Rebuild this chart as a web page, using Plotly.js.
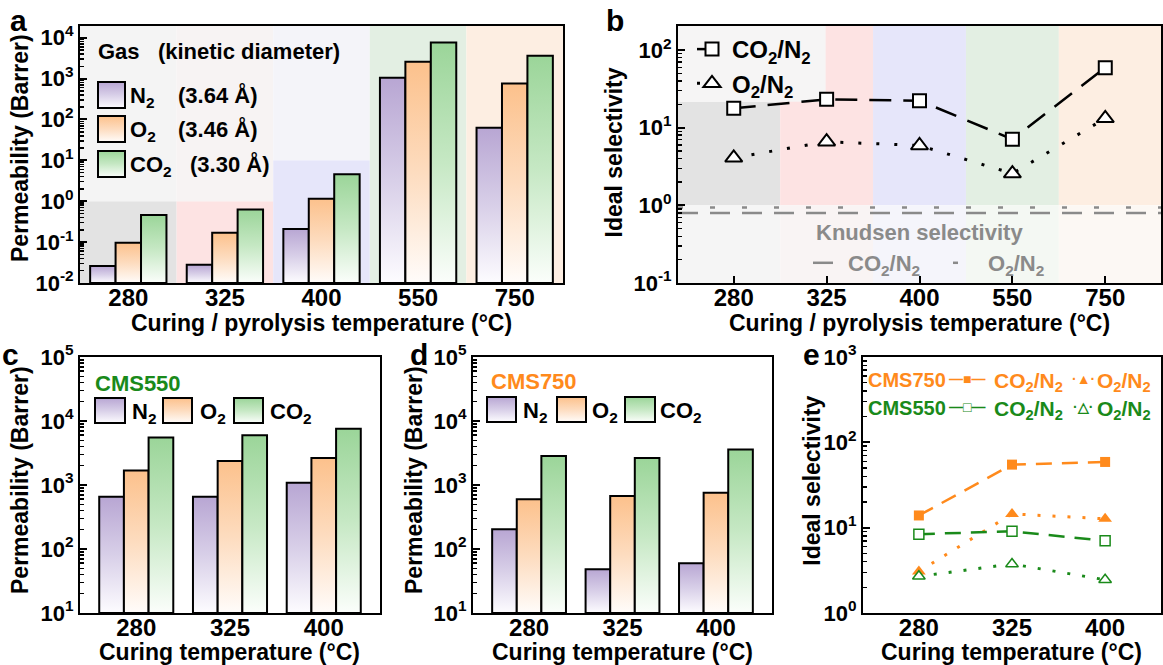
<!DOCTYPE html>
<html><head><meta charset="utf-8">
<script src="https://cdn.plot.ly/plotly-3.0.1.min.js"></script>
<style>html,body{margin:0;padding:0;background:#fff;} #chart{width:1163px;height:665px;}</style>
</head><body><div id="chart"></div>
<script>
// ---------------- data ----------------
const temps = ['280', '325', '400', '550', '750'];
const permN2 = [0.026, 0.028, 0.21, 1050, 63];
const permO2 = [0.096, 0.17, 1.15, 2600, 760];
const permCO2 = [0.46, 0.63, 4.6, 7600, 3600];
const selCO2N2 = [17.8, 23.2, 22.3, 7.1, 59.4];
const selO2N2 = [4.1, 6.6, 5.9, 2.57, 13.2];
const knudsenCO2N2 = 0.80;
const knudsenO2N2 = 0.935;

const curing = ['280', '325', '400'];
const cms550N2 = [655, 655, 1080];
const cms550O2 = [1690, 2380, 2650];
const cms550CO2 = [5500, 5990, 7600];
const cms750N2 = [203, 48.4, 60];
const cms750O2 = [597, 672, 757];
const cms750CO2 = [2850, 2630, 3590];
const cms750SelCO2 = [13.9, 54.8, 58.9];
const cms750SelO2 = [3.07, 14.5, 12.7];
const cms550SelCO2 = [8.4, 9.05, 7.03];
const cms550SelO2 = [2.69, 3.75, 2.45];

const tickA = [0.01, 0.1, 1, 10, 100, 1000, 10000];
const tickAText = ['10<sup>-2</sup>', '10<sup>-1</sup>', '10<sup>0</sup>', '10<sup>1</sup>', '10<sup>2</sup>', '10<sup>3</sup>', '10<sup>4</sup>'];
const tickB = [0.1, 1, 10, 100];
const tickBText = ['10<sup>-1</sup>', '10<sup>0</sup>', '10<sup>1</sup>', '10<sup>2</sup>'];
const tickCD = [10, 100, 1000, 10000, 100000];
const tickCDText = ['10<sup>1</sup>', '10<sup>2</sup>', '10<sup>3</sup>', '10<sup>4</sup>', '10<sup>5</sup>'];
const tickE = [1, 10, 100, 1000];
const tickEText = ['10<sup>0</sup>', '10<sup>1</sup>', '10<sup>2</sup>', '10<sup>3</sup>'];

// ---------------- helpers ----------------
const W = 1163, H = 665;
const px = v => v / W;
const py = v => 1 - v / H;
const xdom = (a, b) => [a / W, b / W];
const ydom = (top, bottom) => [1 - bottom / H, 1 - top / H];
const FONT = 'Liberation Sans, Arial, Helvetica, sans-serif';
const C_N2 = 'rgb(187, 169, 212)', C_O2 = 'rgb(252, 195, 143)', C_CO2 = 'rgb(158, 214, 155)';
const ORANGE = '#ff8a1c', GREEN = '#1a8a1a', GRAY = '#8a8a8a';

const rangeA = [-2, 4.287], rangeB = [-1, 2.31], rangeCD = [1, 5], rangeE = [0, 3];
const topA = Math.pow(10, rangeA[1]), topB = Math.pow(10, rangeB[1]);

function bars(xc, vals, color, xa, ya, base) {
  return {type: 'bar', x: xc, y: vals.map(v => v - base), base: base, xaxis: xa, yaxis: ya,
    marker: {color: color, line: {color: 'black', width: 2}}, showlegend: false, hoverinfo: 'skip'};
}

const traces = [
  bars(temps, permN2, C_N2, 'x', 'y', 0.01),
  bars(temps, permO2, C_O2, 'x', 'y', 0.01),
  bars(temps, permCO2, C_CO2, 'x', 'y', 0.01),
  bars(curing, cms550N2, C_N2, 'x3', 'y3', 10),
  bars(curing, cms550O2, C_O2, 'x3', 'y3', 10),
  bars(curing, cms550CO2, C_CO2, 'x3', 'y3', 10),
  bars(curing, cms750N2, C_N2, 'x4', 'y4', 10),
  bars(curing, cms750O2, C_O2, 'x4', 'y4', 10),
  bars(curing, cms750CO2, C_CO2, 'x4', 'y4', 10),
  // panel b
  {type: 'scatter', mode: 'lines+markers', x: temps, y: selCO2N2, xaxis: 'x2', yaxis: 'y2',
   name: 'CO<sub>2</sub>/N<sub>2</sub>', legend: 'legend',
   line: {color: 'black', width: 2.5, dash: '22px,12px'},
   marker: {symbol: 'square', size: 13, color: 'white', line: {color: 'black', width: 2}}},
  {type: 'scatter', mode: 'lines+markers', x: temps, y: selO2N2, xaxis: 'x2', yaxis: 'y2',
   name: 'O<sub>2</sub>/N<sub>2</sub>', legend: 'legend',
   line: {color: 'black', width: 3, dash: '3px,15px'},
   marker: {symbol: 'triangle-up', size: 15, color: 'white', line: {color: 'black', width: 2}}},
  // Knudsen
  {type: 'scatter', mode: 'lines', x: [0, 1], y: [knudsenCO2N2, knudsenCO2N2], xaxis: 'x6', yaxis: 'y2',
   name: 'CO<sub>2</sub>/N<sub>2</sub>', legend: 'legend2', line: {color: GRAY, width: 2.5, dash: '20px,12px'}},
  {type: 'scatter', mode: 'lines', x: [0, 1], y: [knudsenO2N2, knudsenO2N2], xaxis: 'x6', yaxis: 'y2',
   name: 'O<sub>2</sub>/N<sub>2</sub>', legend: 'legend2', line: {color: GRAY, width: 2.5, dash: '5px,27px'}},
  // panel e
  {type: 'scatter', mode: 'lines+markers', x: curing, y: cms750SelCO2, xaxis: 'x5', yaxis: 'y5',
   name: 'CMS750 CO<sub>2</sub>/N<sub>2</sub>', showlegend: false,
   line: {color: ORANGE, width: 2.5, dash: '16px,10px'}, marker: {symbol: 'square', size: 10, color: ORANGE}},
  {type: 'scatter', mode: 'lines+markers', x: curing, y: cms750SelO2, xaxis: 'x5', yaxis: 'y5',
   name: 'CMS750 O<sub>2</sub>/N<sub>2</sub>', showlegend: false,
   line: {color: ORANGE, width: 3, dash: '3px,12px'}, marker: {symbol: 'triangle-up', size: 12, color: ORANGE}},
  {type: 'scatter', mode: 'lines+markers', x: curing, y: cms550SelCO2, xaxis: 'x5', yaxis: 'y5',
   name: 'CMS550 CO<sub>2</sub>/N<sub>2</sub>', showlegend: false,
   line: {color: GREEN, width: 2.5, dash: '16px,10px'}, marker: {symbol: 'square', size: 10, color: 'white', line: {color: GREEN, width: 1.5}}},
  {type: 'scatter', mode: 'lines+markers', x: curing, y: cms550SelO2, xaxis: 'x5', yaxis: 'y5',
   name: 'CMS550 O<sub>2</sub>/N<sub>2</sub>', showlegend: false,
   line: {color: GREEN, width: 3, dash: '3px,12px'}, marker: {symbol: 'triangle-up', size: 11, color: 'white', line: {color: GREEN, width: 1.5}}}
];

const axLine = {showline: true, mirror: true, linecolor: 'black', linewidth: 2, showgrid: false, zeroline: false, fixedrange: true};
function yAx(dom, range, tv, tt, anchor) {
  return Object.assign({}, axLine, {type: 'log', domain: dom, range: range, anchor: anchor,
    ticks: 'inside', ticklen: 7, tickwidth: 2, tickcolor: 'black', tickmode: 'array', tickvals: tv, ticktext: tt,
    tickfont: {size: 22, family: FONT, color: 'black', weight: 'bold'},
    minor: {ticks: 'inside', ticklen: 4, tickwidth: 1.5, tickcolor: 'black', dtick: 'D1', showgrid: false}});
}
function xAx(dom, cats, range, anchor, ticks) {
  return Object.assign({}, axLine, {type: 'category', categoryorder: 'array', categoryarray: cats, domain: dom, range: range, anchor: anchor,
    ticks: ticks ? 'inside' : '', ticklen: 7, tickwidth: 2, tickcolor: 'black', ticklabelstandoff: -8,
    tickfont: {size: 24, family: FONT, color: 'black', weight: 'bold'}});
}

const domA = xdom(80, 563), domB = xdom(678, 1161), domC = xdom(80, 380), domD = xdom(473, 772), domE = xdom(863, 1161);
const topRow = ydom(26, 283), botRow = ydom(357, 613);

// ---------------- shapes ----------------
const shapes = [];
function rect(xref, yref, x0, x1, y0, y1, color) {
  shapes.push({type: 'rect', xref: xref, yref: yref, x0: x0, x1: x1, y0: y0, y1: y1, fillcolor: color, line: {width: 0}, layer: 'below'});
}
// panel a backgrounds
rect('x', 'y', -0.5, 0.5, 0.01, 1, '#e3e3e3'); rect('x', 'y', -0.5, 0.5, 1, topA, '#f4f4f4');
rect('x', 'y', 0.5, 1.5, 0.01, 1, '#fde3e3'); rect('x', 'y', 0.5, 1.5, 1, topA, '#f7f3f3');
rect('x', 'y', 1.5, 2.5, 0.01, 10, '#e6e6fa'); rect('x', 'y', 1.5, 2.5, 10, topA, '#f4f4f9');
rect('x', 'y', 2.5, 3.5, 0.01, topA, '#e3efe3');
rect('x', 'y', 3.5, 4.5, 0.01, topA, '#fdeee2');
// panel b backgrounds
rect('x2', 'y2', -0.6, 0.5, 1, 21.6, '#e3e3e3'); rect('x2', 'y2', -0.6, 0.5, 0.1, 1, '#f5f5f5');
rect('x2', 'y2', 0.5, 1.5, 1, topB, '#fde3e3'); rect('x2', 'y2', 0.5, 1.5, 0.1, 1, '#f9f4f4');
rect('x2', 'y2', 1.5, 2.5, 1, topB, '#e6e6fa'); rect('x2', 'y2', 1.5, 2.5, 0.1, 1, '#f5f5fb');
rect('x2', 'y2', 2.5, 3.5, 1, topB, '#e3efe3'); rect('x2', 'y2', 2.5, 3.5, 0.1, 1, '#f4f8f3');
rect('x2', 'y2', 3.5, 4.6, 1, topB, '#fdeee2'); rect('x2', 'y2', 3.5, 4.6, 0.1, 1, '#fcf8f4');
rect('x2', 'y2', -0.6, 0.99, 21.6, topB, '#f6f5f5');
// legend boxes (paper)
function box(x0, x1, top, bottom, color) {
  shapes.push({type: 'rect', xref: 'paper', yref: 'paper', x0: px(x0), x1: px(x1), y0: py(bottom), y1: py(top),
    fillcolor: color, line: {color: 'black', width: 2}, layer: 'above'});
}
box(98, 125, 82, 108, C_N2); box(98, 125, 116, 142, C_O2); box(98, 125, 151, 177, C_CO2);
box(95, 125, 398, 423, C_N2); box(163, 192, 398, 423, C_O2); box(234, 263, 398, 423, C_CO2);
box(487, 516, 397, 422, C_N2); box(557, 586, 397, 422, C_O2); box(625, 655, 397, 422, C_CO2);

// ---------------- annotations ----------------
const ann = [];
function txt(text, x, y, opts) {
  opts = opts || {};
  ann.push({xref: 'paper', yref: 'paper', x: px(x), y: py(y), text: text, showarrow: false,
    xanchor: opts.xanchor || 'left', yanchor: opts.yanchor || 'middle', textangle: opts.angle || 0,
    font: {family: FONT, size: opts.size || 22, color: opts.color || 'black', weight: 'bold'}});
}
const NB = '\u00a0';
txt('Gas' + NB + NB + NB + '(kinetic diameter)', 96, 52);
txt('N<sub>2</sub>', 128, 97); txt('(3.64 Å)', 176, 95);
txt('O<sub>2</sub>', 128, 131); txt('(3.46 Å)', 176, 129);
txt('CO<sub>2</sub>', 128, 166); txt('(3.30 Å)', 188, 164);
txt('CMS550', 93, 383, {color: GREEN});
txt('N<sub>2</sub>', 130, 413); txt('O<sub>2</sub>', 198, 413); txt('CO<sub>2</sub>', 268, 413);
txt('CMS750', 489, 382, {color: ORANGE});
txt('N<sub>2</sub>', 521, 412); txt('O<sub>2</sub>', 590, 412); txt('CO<sub>2</sub>', 658, 412);
txt('Knudsen selectivity', 919, 232, {xanchor: 'center', color: GRAY});
// panel e legend
const SYM = s => '<span style="font-size:14px">' + s + '</span>';
txt('CMS750', 866, 380, {color: ORANGE, size: 20});
txt(SYM('\u2014\u25A0\u2014'), 967, 379, {color: ORANGE, xanchor: 'center'});
txt('CO<sub>2</sub>/N<sub>2</sub>', 992, 382, {color: ORANGE, size: 21});
txt(SYM('\u00B7\u25B2\u00B7'), 1083, 379, {color: ORANGE, xanchor: 'center'});
txt('O<sub>2</sub>/N<sub>2</sub>', 1095, 382, {color: ORANGE, size: 21});
txt('CMS550', 866, 408, {color: GREEN, size: 20});
txt(SYM('\u2014\u25A1\u2014'), 967, 407, {color: GREEN, xanchor: 'center'});
txt('CO<sub>2</sub>/N<sub>2</sub>', 992, 410, {color: GREEN, size: 21});
txt(SYM('\u00B7\u25B3\u00B7'), 1083, 407, {color: GREEN, xanchor: 'center'});
txt('O<sub>2</sub>/N<sub>2</sub>', 1095, 410, {color: GREEN, size: 21});
// axis titles
txt('Curing / pyrolysis temperature (°C)', 321.5, 323, {xanchor: 'center', size: 23});
txt('Curing / pyrolysis temperature (°C)', 919.5, 323, {xanchor: 'center', size: 23});
txt('Curing temperature (°C)', 230, 652, {xanchor: 'center', size: 23});
txt('Curing temperature (°C)', 622, 652, {xanchor: 'center', size: 23});
txt('Curing temperature (°C)', 1011, 652, {xanchor: 'center', size: 23});
txt('Permeability (Barrer)', 20, 148, {xanchor: 'center', size: 23, angle: -90});
txt('Ideal selectivity', 613.5, 153, {xanchor: 'center', size: 23, angle: -90});
txt('Permeability (Barrer)', 20, 480, {xanchor: 'center', size: 23, angle: -90});
txt('Permeability (Barrer)', 414, 480, {xanchor: 'center', size: 23, angle: -90});
txt('Ideal selectivity', 811.7, 481, {xanchor: 'center', size: 23, angle: -90});
// panel letters
txt('a', 8, 20, {size: 30});
txt('b', 604, 20, {size: 30});
txt('c', 0, 354, {size: 30});
txt('d', 408, 354, {size: 30});
txt('e', 801, 354, {size: 30});

const legBase = {bgcolor: 'rgba(0,0,0,0)', borderwidth: 0, itemwidth: 30};
const layout = {
  width: W, height: H, margin: {l: 0, r: 0, t: 0, b: 0}, paper_bgcolor: 'white', plot_bgcolor: 'rgba(0,0,0,0)',
  font: {family: FONT, color: 'black', weight: 'bold'},
  barmode: 'group', bargap: 0.21, bargroupgap: 0, hovermode: false, showlegend: true,
  xaxis: xAx(domA, temps, [-0.5, 4.5], 'y', false),
  yaxis: yAx(topRow, rangeA, tickA, tickAText, 'x'),
  xaxis2: xAx(domB, temps, [-0.6, 4.6], 'y2', true),
  yaxis2: yAx(topRow, rangeB, tickB, tickBText, 'x2'),
  xaxis3: xAx(domC, curing, [-0.6, 2.6], 'y3', false),
  yaxis3: yAx(botRow, rangeCD, tickCD, tickCDText, 'x3'),
  xaxis4: xAx(domD, curing, [-0.6, 2.6], 'y4', false),
  yaxis4: yAx(botRow, rangeCD, tickCD, tickCDText, 'x4'),
  xaxis5: xAx(domE, curing, [-0.6, 2.6], 'y5', false),
  yaxis5: yAx(botRow, rangeE, tickE, tickEText, 'x5'),
  xaxis6: {domain: domB, range: [0, 1], overlaying: 'x2', anchor: 'y2', visible: false, fixedrange: true},
  legend: Object.assign({}, legBase, {x: px(692), y: py(27), xanchor: 'left', yanchor: 'top',
    font: {size: 24, family: FONT, color: 'black', weight: 'bold'}, tracegroupgap: 0}),
  legend2: Object.assign({}, legBase, {x: px(808), y: py(263), xanchor: 'left', yanchor: 'middle', orientation: 'h',
    entrywidth: 95, entrywidthmode: 'pixels',
    font: {size: 22, family: FONT, color: GRAY, weight: 'bold'}}),
  shapes: shapes,
  annotations: ann
};

function applyGradients() {
  const NS = 'http://www.w3.org/2000/svg';
  const defs = document.querySelector('#chart .main-svg defs');
  const grads = {};
  grads[C_N2] = ['gradN2', '#b8a6d3', '#d8cfe8', '#fdfcff'];
  grads[C_O2] = ['gradO2', '#fcc18c', '#fddcbf', '#fffcfa'];
  grads[C_CO2] = ['gradCO2', '#9bd599', '#c6e8c4', '#fbfefb'];
  Object.keys(grads).forEach(k => {
    const g = grads[k];
    const lg = document.createElementNS(NS, 'linearGradient');
    lg.setAttribute('id', g[0]);
    lg.setAttribute('x1', '0'); lg.setAttribute('y1', '0'); lg.setAttribute('x2', '0'); lg.setAttribute('y2', '1');
    [[0, g[1]], [0.5, g[2]], [1, g[3]]].forEach(s => {
      const st = document.createElementNS(NS, 'stop');
      st.setAttribute('offset', s[0]); st.setAttribute('stop-color', s[1]);
      lg.appendChild(st);
    });
    defs.appendChild(lg);
  });
  document.querySelectorAll('#chart path').forEach(p => {
    const f = p.style.fill;
    if (grads[f]) p.style.fill = 'url(#' + grads[f][0] + ')';
  });
}

Plotly.newPlot('chart', traces, layout, {displayModeBar: false, staticPlot: true}).then(applyGradients);
</script></body></html>
